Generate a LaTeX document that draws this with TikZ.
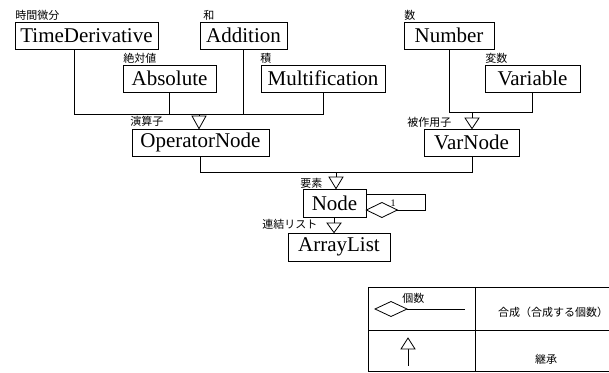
\documentclass[tikz,border=0pt]{standalone}
\usepackage{fontspec}
\setmainfont{Liberation Serif}
\newfontfamily\jpfont{Noto Sans CJK JP}
\begin{document}
\begin{tikzpicture}[x=1pt,y=-1pt,line width=0.8pt,
  classbox/.style={draw, inner sep=0pt, minimum height=27pt,
    font=\fontsize{21}{21}\selectfont},
  jlabel/.style={anchor=west, inner sep=0pt, font=\jpfont\fontsize{11}{11}\selectfont},
  inh/.style={fill=white, line join=miter}]
\useasboundingbox (0,0) rectangle (609,372);

% classes
\node[classbox, minimum width=143pt] (td)   at (86.5,35.5)  {TimeDerivative};
\node[classbox, minimum width=87pt]  (add)  at (243.5,35.5) {Addition};
\node[classbox, minimum width=90pt]  (num)  at (449,35.5)   {Number};
\node[classbox, minimum width=93pt]  (abs)  at (169.5,78.5) {Absolute};
\node[classbox, minimum width=124pt] (mul)  at (323,78.5)   {Multification};
\node[classbox, minimum width=95pt]  (var)  at (532.5,78.5) {Variable};
\node[classbox, minimum width=137pt] (op)   at (200.5,142.5){OperatorNode};
\node[classbox, minimum width=95pt]  (vn)   at (471.5,142.5){VarNode};
\node[classbox, minimum width=63pt, minimum height=28pt]  (nd) at (334.5,203) {Node};
\node[classbox, minimum width=102pt, minimum height=28pt] (al) at (339,247)   {ArrayList};

% role labels
\node[jlabel] (l1)  at (15,15)   {時間微分};
\node[jlabel] (l2)  at (203,15)  {和};
\node[jlabel] (l3)  at (404,15)  {数};
\node[jlabel] (l4)  at (123,58)  {絶対値};
\node[jlabel] (l5)  at (260,58)  {積};
\node[jlabel] (l6)  at (485,58)  {変数};
\node[jlabel] (l7)  at (130,121) {演算子};
\node[jlabel] (l8)  at (407,122) {被作用子};
\node[jlabel] (l9)  at (300,183) {要素};
\node[jlabel] (l10) at (262,224) {連結リスト};

% operators -> OperatorNode
\coordinate (b1) at (74,114);
\coordinate (t1) at (199,116);
\draw (td.south -| b1) -- (b1) -| (mul.south);
\draw (abs.south) -- (abs.south |- b1);
\draw (add.south) -- (add.south |- b1);
\draw (t1 |- b1) -- (t1);
\draw[inh] (t1) ++(-7,0) -- ++(14,0) -- (op.north -| t1) -- cycle;

% operands -> VarNode
\coordinate (b2) at (449,112);
\coordinate (t2) at (472,118);
\draw (num.south) -- (b2) -| (var.south);
\draw (t2 |- b2) -- (t2);
\draw[inh] (t2) ++(-7,0) -- ++(14,0) -- (vn.north -| t2) -- cycle;

% OperatorNode, VarNode -> Node
\coordinate (b3) at (200,172);
\coordinate (t3) at (336,177);
\draw (op.south -| b3) -- (b3) -| (vn.south -| t2);
\draw (t3 |- b3) -- (t3);
\draw[inh] (t3) ++(-7,0) -- ++(14,0) -- (nd.north -| t3) -- cycle;

% Node -> ArrayList
\coordinate (t4) at (334,223);
\draw (nd.south -| t4) -- (t4);
\draw[inh] (t4) ++(-7,0) -- ++(14,0) -- (al.north -| t4) -- cycle;

% self composition of Node
\coordinate (d1) at (366,210);
\coordinate (c1) at (425,194);
\draw[inh] (nd.east |- d1) -- ++(15.5,-7.5) coordinate (dtop) -- ++(15.5,7.5) coordinate (dr)
  -- ++(-15.5,7.5) -- cycle;
\draw (dr) -| (c1) -- (nd.east |- c1);
\node[inner sep=0pt, font=\fontsize{10}{10}\selectfont] (one) at (393,203) {1};

% legend
\coordinate (g1) at (368,287);
\coordinate (g2) at (475,330);
\coordinate (g3) at (609,371);
\draw (g3 |- g1) -- (g1) -- (g1 |- g3) -- (g3);
\draw (g1 |- g2) -- (g3 |- g2);
\draw (g2 |- g1) -- (g2 |- g3);

\coordinate (ld) at (375,309);
\draw[inh] (ld) -- ++(16,-7.5) -- ++(16,7.5) coordinate (ldr) -- ++(-16,7.5) -- cycle;
\coordinate (le) at (465,309);
\draw (ldr) -- (le);
\node[jlabel] (lg1) at (402,298) {個数};
\node[inner sep=0pt, font=\jpfont\fontsize{11}{11}\selectfont] (lg2) at (553,312) {合成（合成する個数）};

\coordinate (la) at (408,338);
\coordinate (lb) at (408,366);
\draw (la) ++(0,11) -- (lb);
\draw[inh] (la) -- ++(7,11) -- ++(-14,0) -- cycle;
\node[inner sep=0pt, font=\jpfont\fontsize{11}{11}\selectfont] (lg3) at (546,359) {継承};
\end{tikzpicture}
\end{document}
